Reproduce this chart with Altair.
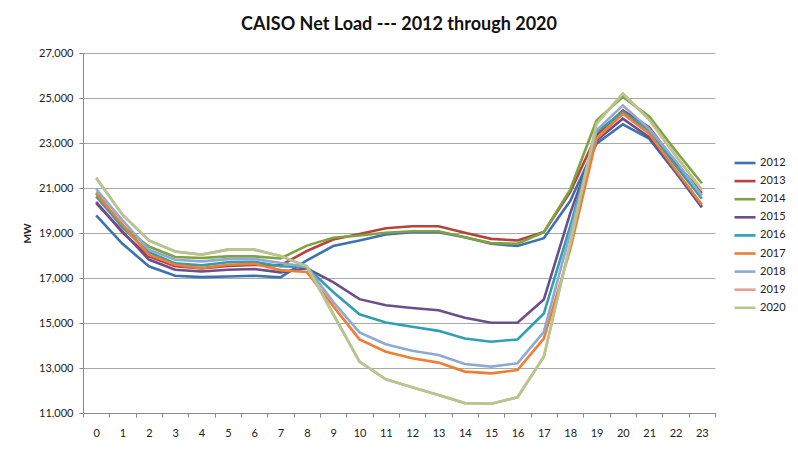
import altair as alt
import pandas as pd

hours = list(range(24))
years = ["2012", "2013", "2014", "2015", "2016", "2017", "2018", "2019", "2020"]

y2012 = [19780, 18520, 17520, 17100, 17040, 17070, 17100, 17030, 17780, 18420, 18670, 18930,
         19040, 19040, 18815, 18520, 18420, 18770, 20420, 22970, 23830, 23190, 21700, 20140]
y2013 = [20380, 19020, 17960, 17520, 17420, 17540, 17580, 17560, 18200, 18710, 18960, 19210,
         19300, 19300, 19010, 18740, 18670, 19040, 20820, 23340, 24450, 23700, 22150, 20770]
y2014 = [20800, 19300, 18400, 17930, 17890, 17960, 17960, 17870, 18440, 18790, 18890, 19010,
         19080, 19080, 18815, 18550, 18520, 19040, 20930, 24000, 25050, 24180, 22670, 21210]
y2015 = [20330, 19070, 17820, 17370, 17290, 17370, 17400, 17250, 17430, 16820, 16060, 15790,
         15670, 15570, 15230, 15010, 15010, 16040, 19870, 23110, 24080, 23260, 21750, 20170]
y2016 = [20630, 19250, 18150, 17650, 17560, 17700, 17720, 17520, 17480, 16380, 15390, 15020,
         14830, 14650, 14310, 14170, 14270, 15420, 19290, 23490, 24380, 23560, 22000, 20520]
y2017 = [20750, 19370, 18040, 17590, 17440, 17590, 17630, 17350, 17270, 15750, 14270, 13720,
         13430, 13240, 12840, 12760, 12910, 14310, 18260, 23190, 24300, 23410, 21810, 20260]
y2018 = [20950, 19560, 18260, 17810, 17740, 17840, 17850, 17670, 17500, 15940, 14580, 14060,
         13770, 13580, 13180, 13060, 13210, 14610, 18990, 23560, 24670, 23630, 22220, 20660]
y2019 = [21450, 19810, 18670, 18180, 18040, 18260, 18260, 17980, 17520, 15400, 13280, 12500,
         12140, 11800, 11440, 11410, 11700, 13500, 18520, 23860, 25190, 24040, 22450, 20920]
y2020 = [21450, 19810, 18670, 18180, 18040, 18260, 18260, 17980, 17520, 15400, 13280, 12500,
         12140, 11800, 11440, 11410, 11700, 13500, 18520, 23860, 25190, 24040, 22450, 20920]

colors = ["#3d72b0", "#b8413d", "#7fa33f", "#6b4e8c", "#2fa0b2", "#ef7e32",
          "#8fa9d4", "#e59e9b", "#b4c78e"]
y_ticks = list(range(11000, 27001, 2000))

series = [y2012, y2013, y2014, y2015, y2016, y2017, y2018, y2019, y2020]
rows = []
for yr, vals in zip(years, series):
    for h, v in zip(hours, vals):
        rows.append({"year": yr, "hour": h, "mw": v})
df = pd.DataFrame(rows)

FONT = "Lato"

chart = alt.Chart(df).mark_line(strokeWidth=2.6).encode(
    x=alt.X("hour:O",
            scale=alt.Scale(type="band", paddingInner=0, paddingOuter=0),
            axis=alt.Axis(title=None, labelAngle=0, tickBand="extent", ticks=True,
                          grid=False, domain=True,
                          domainColor="#888888", tickColor="#888888", tickSize=4,
                          labelPadding=10, labelFontSize=11, labelColor="#222222",
                          labelFont=FONT)),
    y=alt.Y("mw:Q",
            scale=alt.Scale(domain=[11000, 27000], nice=False, zero=False),
            axis=alt.Axis(values=y_ticks, format=",.0f", title="MW", titleFontSize=10,
                          titleFont=FONT, titleFontWeight="bold", titleColor="#222222",
                          titlePadding=6,
                          grid=True, gridColor="#a8a8a8", gridWidth=1,
                          domainColor="#888888", tickColor="#888888", tickSize=4,
                          labelPadding=6, labelFontSize=11, labelColor="#222222",
                          labelFont=FONT)),
    color=alt.Color("year:N",
                    scale=alt.Scale(domain=years, range=colors),
                    legend=alt.Legend(title=None, orient="none", legendX=650, legendY=98,
                                      symbolType="stroke", symbolSize=441,
                                      symbolStrokeWidth=2.6, rowPadding=0.1,
                                      labelOffset=3, labelFontSize=11, labelFont=FONT,
                                      labelColor="#222222", padding=0)),
).properties(
    width=632,
    height=360,
    title=alt.TitleParams("CAISO Net Load --- 2012 through 2020", fontSize=18,
                          font=FONT, fontWeight="bold", color="#111111",
                          anchor="middle", offset=13),
    autosize=alt.AutoSizeParams(type="none"),
    padding={"left": 75, "top": 45, "right": 75, "bottom": 35},
).configure_view(stroke=None)

chart.save("out.html", embed_options={"renderer": "svg", "actions": False})
